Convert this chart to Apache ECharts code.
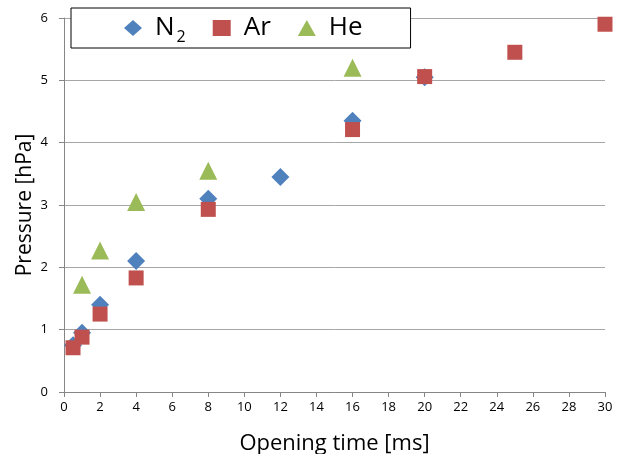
<!DOCTYPE html>
<html><head><meta charset="utf-8">
<script src="https://cdn.jsdelivr.net/npm/echarts@6/dist/echarts.min.js"></script>
<style>html,body{margin:0;padding:0;background:#fff}#c{width:621px;height:454px}</style>
</head><body><div id="c"></div>
<script>
var n2X = [0.5, 1, 2, 4, 8, 12, 16, 20];
var n2Y = [0.75, 0.95, 1.4, 2.1, 3.1, 3.45, 4.35, 5.05];
var arX = [0.5, 1, 2, 4, 8, 16, 20, 25, 30];
var arY = [0.71, 0.88, 1.25, 1.83, 2.93, 4.21, 5.06, 5.45, 5.9];
var heX = [1, 2, 4, 8, 16];
var heY = [1.72, 2.27, 3.05, 3.55, 5.2];
function pairs(xs, ys){ return xs.map(function(x,i){return [x, ys[i]];}); }
var font = "'Open Sans', sans-serif";
var chart = echarts.init(document.getElementById('c'));
chart.setOption({
  animation: false,
  grid: {left: 64, right: 16, top: 18, bottom: 62, containLabel: false, outerBoundsMode: 'none'},
  legend: {
    left: 71, top: 8,
    padding: [3, 48, 3, 53],
    backgroundColor: '#fff', borderColor: '#000', borderWidth: 1, borderRadius: 0,
    itemWidth: 18, itemHeight: 16, itemGap: 27,
    itemStyle: {opacity: 1},
    data: [{name:'N2', icon:'diamond'}, {name:'Ar', icon:'rect'}, {name:'He', icon:'triangle'}],
    formatter: function(n){ return n === 'N2' ? 'N{sub|2}' : n; },
    textStyle: {fontFamily: font, fontSize: 26, lineHeight: 34, color: '#000', padding: [0,0,0,8],
      rich: {sub: {fontFamily: font, fontSize: 16, lineHeight: 34, verticalAlign: 'bottom', padding: [14,0,0,2], color:'#000'}}}
  },
  xAxis: {
    type: 'value', min: 0, max: 30, interval: 2,
    name: 'Opening time [ms]', nameLocation: 'middle', nameGap: 41, nameMoveOverlap: false,
    nameTextStyle: {fontFamily: font, fontSize: 22, color: '#000'},
    axisLine: {show: true, lineStyle: {color: '#868686'}},
    axisTick: {show: true, inside: false, length: 5, lineStyle: {color: '#868686'}},
    axisLabel: {fontFamily: font, fontSize: 13, color: '#000', margin: 9},
    splitLine: {show: false}
  },
  yAxis: {
    type: 'value', min: 0, max: 6, interval: 1,
    name: 'Pressure [hPa]', nameLocation: 'middle', nameGap: 28, nameRotate: 90, nameMoveOverlap: false,
    nameTextStyle: {fontFamily: font, fontSize: 21, color: '#000'},
    axisLine: {show: true, lineStyle: {color: '#868686'}},
    axisTick: {show: true, inside: false, length: 5, lineStyle: {color: '#868686'}},
    axisLabel: {fontFamily: font, fontSize: 13, color: '#000', margin: 16},
    splitLine: {show: true, lineStyle: {color: '#A6A6A6', width: 1}}
  },
  series: [
    {name: 'N2', type: 'scatter', symbol: 'diamond', symbolSize: 18, itemStyle: {color: '#4F81BD', opacity: 1}, data: pairs(n2X, n2Y)},
    {name: 'Ar', type: 'scatter', symbol: 'rect', symbolSize: 15, itemStyle: {color: '#C0504D', opacity: 1}, data: pairs(arX, arY)},
    {name: 'He', type: 'scatter', symbol: 'triangle', symbolSize: 18, itemStyle: {color: '#9BBB59', opacity: 1}, data: pairs(heX, heY)}
  ]
});
</script></body></html>
